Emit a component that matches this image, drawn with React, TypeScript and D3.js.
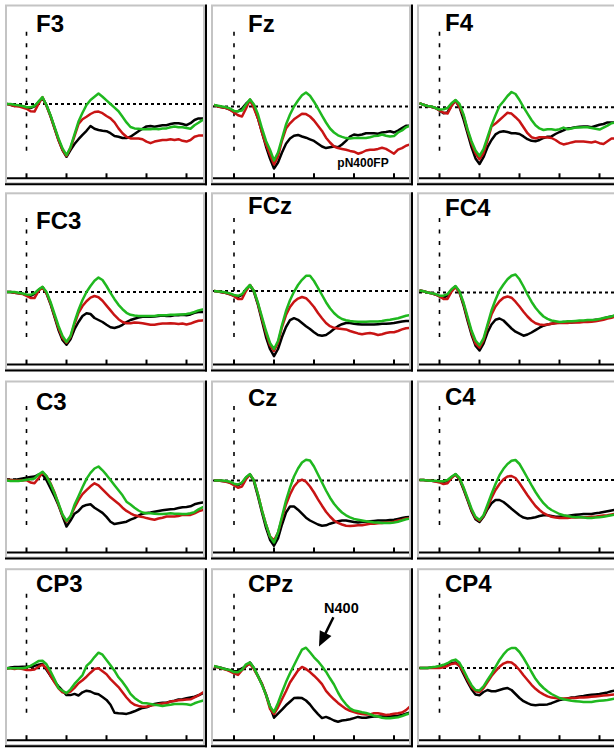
import React from "react";
import * as d3 from "d3";

// sample times (ms), one value every 20 ms from -100 to 900
const TIMES = d3.range(-100, 901, 20);
const TICK_TIMES = [0, 200, 400, 600, 800];
const CHANNELS = ["F3", "Fz", "F4", "FC3", "FCz", "FC4", "C3", "Cz", "C4", "CP3", "CPz", "CP4"];

// amplitudes in µV (negative plotted upward)
const F3_BLACK = [0,0.2,0.5,0.3,0.6,0.8, 1,0.6,-0.5,-1.5,0.3,3,6,9,11.5,13.2, 11.5,10,8.8,7.7,6.7,5.5,6.2,6.5,6.7,6.8, 7.3,8,8.2,8.5,8.5,8.2,7.5,6.8,6.2,5.6, 5.5,5.7,5.5,5.3,5.3,5,4.8,4.8,5,5.3, 4.8,4,3.6,3.6,3.6];
const F3_RED = [0,0.2,0.5,0.6,0.9,1.2, 1.8,1.9,0,-1.7,0.5,3,6,9,11.5,13, 11,8,5,3.8,3.2,2.5,2,1.9,2.3,3, 3.6,4.6,6.1,7.3,8.2,8.6,8.6,8.6,8.8,9.4, 9.8,9.4,9.2,9,9,8.8,9,8.8,9.2,9.4, 9,8.2,7.9,7.9,7.9];
const F3_GREEN = [0,0,0.2,0.3,0.5,0.8, 0.8,0.5,-0.6,-1.7,0.3,2.8,5.7,8.6,11.1,12.8, 10.8,7.6,4.4,2.2,0.25,-1,-1.8,-2.6,-1.8,-0.9, 0,0.9,1.8,3.2,4.6,5.75,6.1,6.2,6.3,6.3, 6.3,6.2,6.3,6.1,6.1,5.8,5.6,5.8,5.8,6, 6.2,5.3,4.7,4,3.6];

const FZ_BLACK = [-0.4,0,0.2,0.4,0.8,1.2, 1.2,0.5,-0.7,-1.6,0,3,6.5,10,13,15.5, 14,11.5,9.3,8,7.3,7.1,7.5,7.8,8.2,8.6, 9.3,10,10.4,10.2,10,10.2,9.5,8.6,7.5,7, 7.2,7,6.7,6.7,6.7,6.8,6.5,6.4,6.2,6.5, 6,5.4,4.8,4.8,4.8];
const FZ_RED = [-0.4,0,0.2,0.4,0.8,1.5, 2.2,2.5,0.5,-1.7,0.5,3,6.5,9.5,12,14.5, 12.5,8.5,5.5,4.2,3.2,2.5,1.8,1.9,2.5,3.5, 4.8,6.1,7.8,9,10,10.4,10.6,10.8,11.1,11.3, 11.8,11.5,11,10.8,10.8,10.6,10.3,10.6,11.2,11.8, 10.8,10.4,9.8,9.5,9.5];
const FZ_GREEN = [-0.4,-0.2,0,0.2,0.5,1.1, 1.2,1,-0.5,-1.8,-0.5,2,5.5,8.6,10.8,13.5, 11.5,8,4.5,2,0,-1.5,-2.8,-3.5,-2.7,-1.2, 0.5,2.3,4,5.5,6.5,7.2,7.6,7.9,8,7.9, 7.9,7.9,7.9,7.7,7.4,7.3,7,7.3,7.5,7.4, 6.5,6,5.2,4.8,4.6];

const F4_BLACK = [-1,-0.6,-0.3,-0.1,0.2,0.8, 1.5,1.3,-0.5,-1.6,0,3,6.5,10,12.8,14.2, 12.5,10,8.2,6.8,6.2,6,6.2,6.5,6.5,6.7, 7.3,8,8.4,8.5,8.2,7.7,7.4,7.3,6.7,6.2, 5.8,5.3,5.2,5,4.9,4.8,4.8,5,4.7,4.4, 4.2,3.8,3.8,3.8,3.8];
const F4_RED = [-1,-0.6,-0.3,-0.1,0.2,0.8, 1.4,1.6,-0.3,-1.7,0,2,5.8,9,11.5,13, 11.5,8.3,4.8,4.1,3.2,2.3,1.4,1.6,2.5,3.5, 5,6.5,7.5,7.8,7.5,7.5,7.6,7.7,8.2,8.9, 9.3,9.1,8.8,8.6,8.6,8.6,8.7,8.8,8.6,9, 9.2,8.5,7.8,7.8,7.8];
const F4_GREEN = [-1,-0.6,-0.3,-0.2,0.2,0.6, 0.5,0.2,-1,-1.8,-0.8,1.8,5.5,8.5,10.8,12.2, 10.5,7.5,4.5,2,-0.3,-1.5,-2.8,-3.8,-3.3,-1.8, 0,1.6,3.2,4.5,5.3,5.7,5.5,5.5,5.7,5.5, 5.1,5.5,5.3,5.1,5.1,5,5,5.2,5.4,5.6, 5.1,4.6,4,3.8,3.8];

const FC3_BLACK = [0,0,0.2,0.3,0.4,0.8, 1,0.5,-0.5,-1.2,0.3,3,6.2,9.5,12,13.2, 11.8,9.3,7.5,6,5.3,5.5,6.5,7,7.5,8.2, 8.8,9,8.7,8.2,7.5,7,6.7,6.4,6.2,6.1, 6.2,6.1,6,5.9,6,6,5.8,5.8,5.7,5.8, 5.6,5.2,5,5,5];
const FC3_RED = [0,0,0.2,0.3,0.5,1, 1.5,1.5,-0.2,-1.2,0.3,2.8,6,9,11.5,12.7, 11.2,8,5.2,3.5,2.3,1.4,1,1.3,2.2,3.4, 4.6,5.8,6.8,7.5,7.8,7.8,7.6,7.7,7.8,8, 8.2,8.2,8,7.9,7.9,7.8,7.9,8,7.9,8.1, 7.9,7.5,7.2,7.1,7];
const FC3_GREEN = [0,0,0,0.2,0.4,0.6, 0.7,0.3,-0.6,-1.3,0,2.5,5.5,8.5,11,12.5, 11,7.5,4.5,2,0,-1.5,-2.8,-3.6,-3,-1.5, 0.2,1.8,3.2,4.3,5.2,5.7,5.9,6,6,6, 6,6,5.8,5.8,5.8,5.7,5.7,5.6,5.6,5.5, 5.3,5,4.6,4.4,4.3];

const FCZ_BLACK = [0,0.1,0.3,0.5,0.8,1.2, 1.5,1,-0.3,-1.4,0.3,3.5,7.5,11.5,14.5,16.3, 14.5,11.5,9,7.3,6.8,7.2,8,8.8,9.5,10.3, 11,11.2,11,10.3,9.5,8.8,8.3,8,8,8.2, 8.3,8.4,8.4,8.4,8.4,8.3,8.2,8.2,8.1,8, 7.8,7.6,7.5,7.5,7.5];
const FCZ_RED = [0,0.1,0.3,0.5,0.8,1.3, 2,2,0,-1.5,0,3.2,7,10.5,13.5,15, 13,9,6,4,2.7,1.9,1.5,1.8,2.8,4, 5.5,6.8,8,8.8,9.2,9.4,9.5,9.6,10,10.3, 10.6,10.8,10.6,10.5,10.7,11,10.8,10.5,10.3,10.3, 10,9.6,9.3,9.2,9];
const FCZ_GREEN = [0,0.1,0.2,0.4,0.6,1, 1.2,0.8,-0.5,-1.5,0,3,6.5,10,13,14.5, 12.5,8.5,5,2.3,0.2,-1.5,-2.8,-3.8,-3.8,-2.5, -0.8,1,2.8,4.3,5.5,6.4,7,7.3,7.5,7.6, 7.7,7.7,7.7,7.6,7.6,7.6,7.5,7.3,7.2,7, 6.8,6.5,6.2,6,6];

const FC4_BLACK = [-0.5,-0.3,0,0.2,0.5,1, 1.3,0.8,-0.6,-1.5,0,3.2,7,10.5,13.3,14.5, 12.8,10,8,6.8,6.5,7,8,9,9.8,10.3, 10.8,10.5,10,9.4,8.8,8.3,8,7.8,7.6,7.5, 7.4,7.5,7.5,7.4,7.3,7.2,7.2,7,6.8,6.8, 6.5,6.2,6,5.8,5.6];
const FC4_RED = [-0.5,-0.3,0,0.2,0.5,1, 1.6,1.6,-0.2,-1.4,0,2.8,6.5,10,12.8,13.8, 12,8.5,5.5,3.5,2.2,1.3,1,1.3,2.3,3.5, 4.8,6,7,7.7,8,8.1,8,7.8,7.7,7.6, 7.6,7.6,7.5,7.5,7.5,7.4,7.4,7.3,7.2,7, 6.8,6.5,6.3,6,5.8];
const FC4_GREEN = [-0.5,-0.3,0,0.2,0.4,0.8, 0.8,0.4,-0.8,-1.6,-0.3,2.5,6,9.5,12,13.2, 11.5,8,4.5,1.8,-0.5,-2,-3.3,-4.2,-4.5,-3.3, -1.5,0.5,2.3,3.8,5,6,6.6,7,7.2,7.4, 7.3,7.2,7.2,7.1,7,7,6.9,6.9,6.8,6.6, 6.4,6.2,6,5.6,5.4];

const C3_BLACK = [0.2,0.2,0.2,0,-0.2,-0.4, -0.6,-0.7,-1.2,-1.2,0.2,2.2,4.25,6.5,9.2,11.8, 10.3,8.6,7.9,6.8,6.4,6.25,7.1,7.75,8.4,9.4, 10.6,11.2,11,10.8,10.6,10.1,9.7,9.1,8.6,8.4, 8.3,8.1,7.9,7.75,7.6,7.5,7.4,7.2,7,6.9, 6.75,6.25,6,5.8,5.7];
const C3_RED = [0.2,0.2,0.3,0.3,0.3,0.2, 0.8,1,-0.25,-1.7,-0.8,1,3.3,6.25,9,10.6, 9.25,7.1,5.2,3.7,2.7,1.75,1,1.5,2.5,3.5, 4.5,5.3,6.1,7.1,7.9,8.5,9,9.25,9.4,9.7, 9.9,10.1,9.8,9.6,9.3,9.3,9.3,9.2,8.9,8.9, 8.9,8.5,8,7.7,7.2];
const C3_GREEN = [0.3,0.4,0.4,0.4,0.3,0.1, 0,-0.2,-1.2,-1.9,-0.8,1.2,3.5,6,8.8,10.4, 9.25,6.4,4.25,2,-0.1,-1.6,-2.7,-3.2,-2.25,-1.1, 0.2,1.5,2.75,4,5.6,6.3,7.1,7.8,8.3,8.5, 8.5,8.6,8.7,8.7,8.6,8.5,8.6,8.6,8.7,8.7, 8.5,8.2,7.5,7,6.8];

const CZ_BLACK = [0,0,0.1,0.2,0.5,1, 1.2,0.6,-0.7,-1.5,0.3,4,8,11.8,14.8,16.3, 14.5,11,8,6.5,6.5,7.3,8.3,9.3,10,10.5, 11,11.3,11.2,10.8,10.5,10.2,10,10,10.2,10.4, 10.5,10.4,10.3,10.2,10.1,10,10,10,9.9,9.8, 9.6,9.4,9.2,9.1,9];
const CZ_RED = [0,0,0.1,0.3,0.6,1.2, 1.8,1.5,-0.3,-1.5,0,3.5,7.5,11,14,15, 13,9.5,6,3.5,1.5,0.3,-0.2,0.3,1.5,3, 4.7,6.3,7.8,9,10,10.6,11,11.3,11.4,11.3, 11.2,11.2,11,10.8,10.8,10.7,10.6,10.5,10.5,10.3, 10,9.8,9.5,9.4,9.3];
const CZ_GREEN = [0,0,0,0.1,0.3,0.8, 1,0.5,-0.8,-1.6,0,3.5,7.5,11,14,15.5, 13,9,5,1.8,-1,-3,-4.5,-5.2,-5,-3.5, -1.5,0.5,2.5,4.3,5.8,7,8,8.7,9.2,9.6, 9.8,10,10.2,10.3,10.5,10.5,10.6,10.6,10.6,10.5, 10.3,10,9.7,9.5,9.4];

const C4_BLACK = [0,0,0.1,0.2,0.3,0.4, 0.5,0.2,-0.7,-1.4,-0.2,2.3,5,7.8,9.8,10.5, 9.2,7.3,5.8,5,5,5.5,6.3,7.2,8,8.8, 9.4,9.6,9.5,9.3,9,8.8,8.8,9,9.2,9.2, 9,9,8.8,8.7,8.6,8.5,8.5,8.5,8.3,8.2, 8,7.8,7.6,7.4,7.3];
const C4_RED = [0,0,0.1,0.2,0.4,0.6, 1,0.8,-0.5,-1.4,-0.3,2,4.8,7.5,9.5,10.2, 9,6.8,4.5,2.5,1,-0.2,-0.9,-1,-0.5,0.8, 2.3,3.8,5.2,6.5,7.5,8.3,8.8,9.2,9.4,9.5, 9.5,9.5,9.4,9.4,9.3,9.3,9.3,9.2,9.2,9, 8.9,8.8,8.6,8.4,8.3];
const C4_GREEN = [0,0,0.1,0.2,0.2,0.3, 0.3,0,-0.8,-1.5,-0.5,1.8,4.5,7.2,9.2,10, 8.8,6.2,3.5,1,-1.2,-2.8,-4,-4.8,-5,-4, -2.3,-0.5,1.3,3,4.5,5.8,6.8,7.5,8,8.5, 8.8,9,9.2,9.3,9.3,9.4,9.5,9.5,9.4,9.3, 9.2,9,8.8,8.6,8.5];

const CP3_BLACK = [0,-0.2,-0.3,-0.3,-0.4,-0.4, -0.4,-0.6,-0.9,-1.1,0.4,1.9,3.3,4.5,5.6,6.7, 6.7,6.4,6.8,6,5.6,5.8,6.3,6.5,7.2,7.9, 9.1,11.1,11.25,11.3,11.4,11.1,10.75,10.3,9.9,9.75, 9.3,8.9,8.75,8.6,8.6,8.3,8.1,7.8,7.75,7.5, 7.3,7.1,6.75,6.25,5.9];
const CP3_RED = [0,0,0.2,0,0.2,0.4, 0.4,0.3,-0.4,-0.9,0,1.8,3.5,5,6,6.2, 5.8,4.9,3.75,3,2.1,1.1,0.2,0,0.75,1.5, 2.7,3.7,4.7,6,7.3,8.4,9.1,9.4,9.6,9.6, 9.3,9.2,9,8.8,8.7,8.3,8.2,8,7.9,7.8, 7.75,7.25,6.75,6.1,5.7];
const CP3_GREEN = [0,0,0,0,0,-0.2, -0.6,-1.2,-1.8,-1.9,-1,0.75,2.75,4.9,5.6,6.2, 5.25,3.9,2.8,1.7,-0.6,-1.5,-2.8,-3.9,-3.4,-2.1, -0.75,0.6,2.25,3.4,4.8,6.4,7.4,8.1,8.7,8.75, 8.9,9.1,9.25,9.4,9.25,9.1,8.9,8.9,8.9,9, 9.2,8.75,8.4,8.1,7.9];

const CPZ_BLACK = [-0.7,-0.5,-0.3,0,0.3,0.5, 0.4,-0.25,-0.75,-1.7,-0.25,1.7,3.7,6.3,9.3,12.1, 11.1,10.1,9,8.1,7.2,7.1,7.2,7.8,8.8,10.1, 11.2,12.2,11.9,12.3,12.8,13.1,12.8,12.7,12.5,12.2, 11.9,12.1,12.1,11.9,11.8,11.8,11.8,11.8,11.8,11.7, 11.6,11.4,11.1,10.8,10.7];
const CPZ_RED = [-0.7,-0.5,-0.2,0.1,0.5,1, 1.4,0.2,-0.9,-1.3,0,1.8,3.7,6.4,9.9,11.2, 9.5,7.5,5.5,3.3,1.8,0.3,-0.6,-0.1,0.7,1.6, 2.6,3.7,5.4,6.5,7.5,8.4,9.2,9.9,10.4,10.7, 11,11.2,11.3,11.3,11,11,11.2,11.4,11.3,11.1, 11,10.8,10.2,9.3,9.2];
const CPZ_GREEN = [-0.8,-0.6,-0.25,0,0.2,0.7, 0.75,0.1,-1.25,-1.7,-0.3,1.7,3.9,6.4,9.3,10.7, 8.4,5.75,3.2,1,-1,-3,-4.9,-5.4,-4.25,-3, -2,-0.75,0.6,2.25,3.8,5.8,7.5,8.75,9.75,10.3, 10.5,10.75,10.9,11.25,11.6,11.8,12.1,12.25,12.25,12.1, 12,11.7,11.3,11,10.8];

const CP4_BLACK = [0,0,0,-0.1,-0.2,-0.3, -0.5,-0.8,-1.2,-1.4,-0.5,1.5,3.5,5.3,6.6,6.8, 6,5.5,5.8,5.8,5.5,5.2,5,5.5,6.5,7.5, 8.3,8.8,9.2,9.3,9.2,9.2,9.1,8.8,8.4,8, 7.8,7.6,7.4,7.3,7.1,7,6.8,6.7,6.6,6.5, 6.3,6.1,5.8,5.6,5.5];
const CP4_RED = [0,0,0,0,0,0, -0.2,-0.5,-1,-1.2,-0.6,1,3,4.8,5.8,6, 5,3.5,2,0.8,-0.3,-1.1,-1.5,-1.4,-0.6,0.5, 1.8,3,4.2,5.2,6,6.6,7.1,7.4,7.5,7.6, 7.6,7.6,7.5,7.5,7.4,7.4,7.3,7.2,7.1,7, 6.9,6.8,6.7,6.6,6.5];
const CP4_GREEN = [0,0,0,-0.2,-0.3,-0.5, -0.8,-1.2,-1.8,-2.1,-1.3,0.5,2.5,4.3,5.5,5.6, 4.6,3,1.5,-0.3,-2,-3.4,-4.5,-5,-5,-4, -2.5,-0.8,1,2.7,4,5,5.8,6.5,7,7.5, 7.8,8,8.2,8.3,8.4,8.5,8.5,8.5,8.3,8.2, 8.1,8,7.8,7.6,7.5];

const BLACK_SERIES = [F3_BLACK, FZ_BLACK, F4_BLACK, FC3_BLACK, FCZ_BLACK, FC4_BLACK, C3_BLACK, CZ_BLACK, C4_BLACK, CP3_BLACK, CPZ_BLACK, CP4_BLACK];
const RED_SERIES = [F3_RED, FZ_RED, F4_RED, FC3_RED, FCZ_RED, FC4_RED, C3_RED, CZ_RED, C4_RED, CP3_RED, CPZ_RED, CP4_RED];
const GREEN_SERIES = [F3_GREEN, FZ_GREEN, F4_GREEN, FC3_GREEN, FCZ_GREEN, FC4_GREEN, C3_GREEN, CZ_GREEN, C4_GREEN, CP3_GREEN, CPZ_GREEN, CP4_GREEN];

// annotations (time ms, amplitude µV)
const N400_TEXT = { panel: 10, t: 537, v: -14.2, text: "N400" };
const N400_ARROW = { panel: 10, from: [497, -13], to: [425, -5.7] };
const FP_TEXT = { panel: 1, t: 645, v: 15.2, text: "pN400FP" };

// layout
const W = 614;
const H = 748;
const COL_LEFT = [6, 212, 418];
const COL_ZERO = [26.5, 234, 439.5];
const ROW_TOP = [5.5, 193.3, 381.5, 569.2];
const ROW_AXIS = [178.3, 364.6, 552.5, 740.2];
const BASE_Y = [104, 106.5, 107.2, 292, 291, 292.5, 479.3, 480.5, 480, 668.3, 669.3, 668];
const LABEL_XY = [[36, 32], [248, 32], [445, 31], [36, 229], [248, 214], [445, 216], [36, 410], [248, 406], [445, 405], [36, 592], [248, 592], [445, 592]];
const PANEL_W = 198;
const MS_PX = 0.2;
const UV_PX = 4;

const FONT = "'Liberation Sans', Arial, Helvetica, sans-serif";
const COLORS = { black: "#000000", red: "#c81414", green: "#1fb81f", frame: "#c4c4c4" };

function Panel({ i }: { i: number }) {
  const col = i % 3;
  const row = Math.floor(i / 3);
  const L = COL_LEFT[col];
  const T = ROW_TOP[row];
  const axisY = ROW_AXIS[row];
  const x = d3.scaleLinear().domain([0, 800]).range([COL_ZERO[col], COL_ZERO[col] + 800 * MS_PX]);
  const y = d3.scaleLinear().domain([0, 10]).range([BASE_Y[i], BASE_Y[i] + 10 * UV_PX]);
  const line = d3
    .line<number>()
    .x((_, k) => x(TIMES[k]))
    .y((d) => y(d))
    .curve(d3.curveLinear);
  const clipId = `clip-${i}`;
  const series = [
    { data: BLACK_SERIES[i], color: COLORS.black },
    { data: RED_SERIES[i], color: COLORS.red },
    { data: GREEN_SERIES[i], color: COLORS.green },
  ];
  const bottom = axisY + 6;
  return (
    <g>
      <defs>
        <clipPath id={clipId}>
          <rect x={L + 1} y={T + 1} width={PANEL_W - 2} height={axisY - T - 2} />
        </clipPath>
      </defs>
      <rect x={L} y={T} width={PANEL_W} height={bottom - T - 1} fill="#fff" stroke={COLORS.frame} strokeWidth={2} />
      <line x1={L + PANEL_W + 2} x2={L + PANEL_W + 2} y1={T - 1} y2={bottom + 1} stroke="#000" strokeWidth={2} />
      <line x1={L - 1} x2={L + PANEL_W + 3} y1={bottom} y2={bottom} stroke="#000" strokeWidth={2} />
      <line x1={L + 1} x2={L + PANEL_W - 1} y1={axisY} y2={axisY} stroke="#000" strokeWidth={2} />
      {TICK_TIMES.map((t) => (
        <line key={t} x1={x(t)} x2={x(t)} y1={axisY} y2={axisY - 5} stroke="#000" strokeWidth={2} />
      ))}
      <line x1={L + 1} x2={L + PANEL_W - 1} y1={y(0)} y2={y(0)} stroke="#000" strokeWidth={2} strokeDasharray="3 3" />
      <line x1={x(0)} x2={x(0)} y1={axisY - 146.5} y2={axisY - 23} stroke="#000" strokeWidth={1.6} strokeDasharray="4 7.5" />
      <g clipPath={`url(#${clipId})`}>
        {series.map((s, k) => (
          <path key={k} d={line(s.data) || ""} fill="none" stroke={s.color} strokeWidth={2.5} strokeLinejoin="round" />
        ))}
      </g>
      <text x={LABEL_XY[i][0]} y={LABEL_XY[i][1]} fontFamily={FONT} fontWeight="bold" fontSize={24} fill="#000">
        {CHANNELS[i]}
      </text>
      {i === FP_TEXT.panel && (
        <text x={x(FP_TEXT.t)} y={y(FP_TEXT.v)} textAnchor="middle" fontFamily={FONT} fontWeight="bold" fontSize={12} fill="#000">
          {FP_TEXT.text}
        </text>
      )}
      {i === N400_TEXT.panel && <N400Annotation x={x} y={y} />}
    </g>
  );
}

function N400Annotation({ x, y }: { x: d3.ScaleLinear<number, number>; y: d3.ScaleLinear<number, number> }) {
  const [x1, y1] = [x(N400_ARROW.from[0]), y(N400_ARROW.from[1])];
  const [x2, y2] = [x(N400_ARROW.to[0]), y(N400_ARROW.to[1])];
  const len = Math.hypot(x2 - x1, y2 - y1);
  const ux = (x2 - x1) / len;
  const uy = (y2 - y1) / len;
  const headLen = 15;
  const halfW = 6.5;
  const bx = x2 - ux * headLen;
  const by = y2 - uy * headLen;
  const pts = [
    [x2, y2],
    [bx - uy * halfW, by + ux * halfW],
    [bx + uy * halfW, by - ux * halfW],
  ];
  return (
    <g>
      <line x1={x1} y1={y1} x2={bx + ux * 2} y2={by + uy * 2} stroke="#000" strokeWidth={2.5} />
      <polygon points={pts.map((p) => p.join(",")).join(" ")} fill="#000" />
      <text x={x(N400_TEXT.t)} y={y(N400_TEXT.v)} textAnchor="middle" fontFamily={FONT} fontWeight="bold" fontSize={14.5} fill="#000">
        {N400_TEXT.text}
      </text>
    </g>
  );
}

export default function App() {
  return (
    <svg
      width={W}
      height={H}
      viewBox={`0 0 ${W} ${H}`}
      style={{ position: "absolute", left: 0, top: 0, background: "#fff", display: "block" }}
    >
      <rect x={0} y={0} width={W} height={H} fill="#fff" />
      {CHANNELS.map((_, i) => (
        <Panel key={i} i={i} />
      ))}
    </svg>
  );
}
